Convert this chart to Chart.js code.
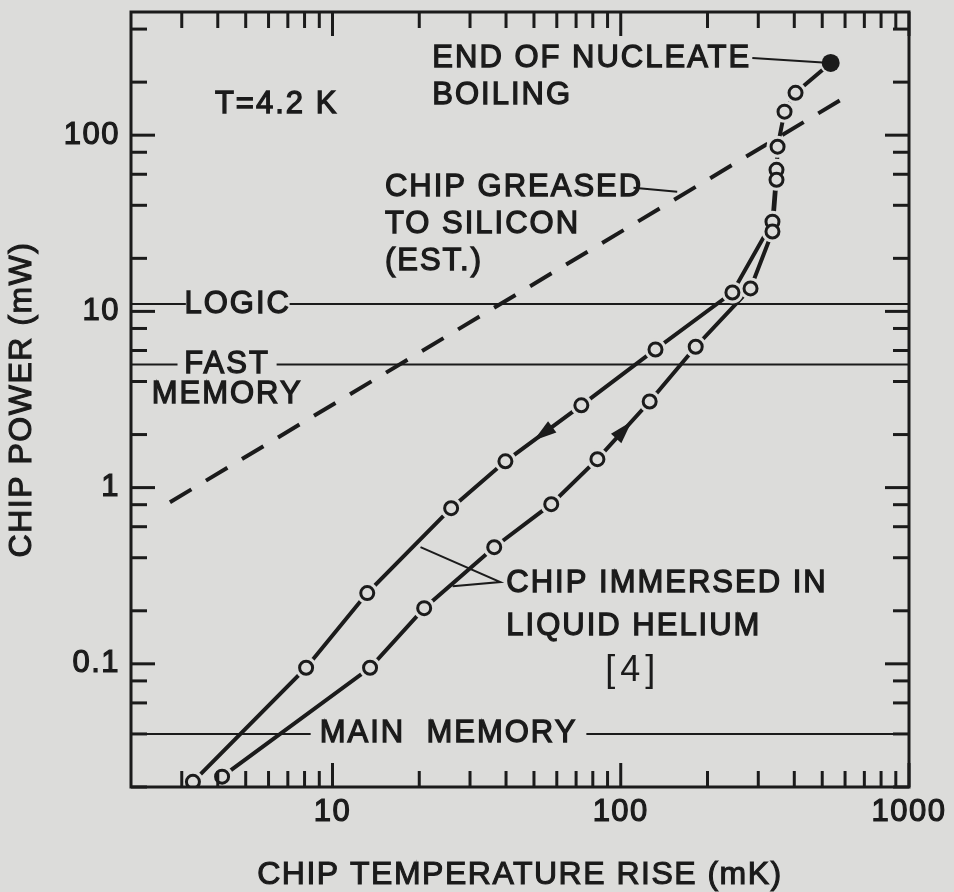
<!DOCTYPE html>
<html>
<head>
<meta charset="utf-8">
<script src="https://cdn.jsdelivr.net/npm/chart.js@4.4.1/dist/chart.umd.min.js"></script>
<style>
  html, body { margin: 0; padding: 0; background: #dcdcda; }
  canvas { display: block; }
</style>
</head>
<body>
<canvas id="chart" width="954" height="892"></canvas>
<script>
const ink = '#1b1b1b';
const paper = '#dcdcda';

// Rango de los ejes (mK y mW)
const tempRange = [2, 1000];
const powerRange = [0.02, 500];

// Marcas de los ejes
const xMajorTicks = [10, 100, 1000];
const xMinorTicks = [3, 4, 5, 6, 7, 8, 9, 20, 30, 40, 50, 60, 70, 80, 90, 200, 300, 400, 500, 600, 700, 800, 900];
const yMajorTicks = [0.1, 1, 10, 100];
const yMinorTicks = [0.02, 0.04, 0.06, 0.08, 0.2, 0.4, 0.6, 0.8, 2, 4, 6, 8, 20, 40, 60, 80, 200, 400];

const xTitle = 'CHIP TEMPERATURE RISE (mK)';
const yTitle = 'CHIP POWER (mW)';

// Chip sumergido en helio liquido: subida (curva inferior)
const upTemp = [4.14, 13.5, 20.8, 36.4, 57.4, 83, 126, 182, 282, 336, 347, 350, 370, 404];
const upPower = [0.0229, 0.095, 0.207, 0.459, 0.805, 1.45, 3.08, 6.3, 13.5, 28.4, 55.8, 86, 136, 174];
// bajada (curva superior)
const downTemp = [347, 336, 244, 132, 73, 39.8, 25.8, 13.2, 8.1, 3.28];
const downPower = [63.6, 32.3, 12.8, 6.08, 2.93, 1.41, 0.764, 0.252, 0.095, 0.0214];
// fin de la ebullicion nucleada
const endTemp = [535];
const endPower = [257];

// Chip engrasado al silicio (estimado)
const greasedTemp = [2.73, 637];
const greasedPower = [0.826, 174];

// Niveles de potencia de referencia
const levelNames = ['LOGIC', 'FAST', 'MAIN  MEMORY'];
const levelPower = [11, 5, 0.04];
const levelGapFrom = [3.1, 2.9, 8.4];
const levelGapTo = [7.1, 6.4, 76];

const toPoints = (xs, ys) => xs.map((x, i) => ({ x: x, y: ys[i] }));

const levelSets = levelPower.map((p, i) => ({
    data: [
        { x: tempRange[0], y: p },
        { x: levelGapFrom[i], y: p },
        { x: (levelGapFrom[i] + levelGapTo[i]) / 2, y: null },
        { x: levelGapTo[i], y: p },
        { x: tempRange[1], y: p }
    ],
    borderColor: ink,
    borderWidth: 2,
    pointRadius: 0,
    spanGaps: false,
    order: 6
}));

const notes = [
    { text: 'T=4.2 K', x: 3.91, y: 150 },
    { text: 'END OF NUCLEATE', x: 22.2, y: 271 },
    { text: 'BOILING', x: 22.2, y: 167 },
    { text: 'CHIP GREASED', x: 15.2, y: 50.3 },
    { text: 'TO SILICON', x: 15.2, y: 31 },
    { text: '(EST.)', x: 15.2, y: 19.2 },
    { text: 'MEMORY', x: 4.31, y: 3.38, align: 'center' },
    { text: 'CHIP IMMERSED IN', x: 40.1, y: 0.287 },
    { text: 'LIQUID HELIUM', x: 40.1, y: 0.164 }
];

const plugin = {
    id: 'anotaciones',
    beforeDraw(chart) {
        chart.ctx.letterSpacing = '1.5px';
    },
    afterDraw(chart) {
        const { ctx, chartArea: area, scales } = chart;
        const px = v => scales.x.getPixelForValue(v);
        const py = v => scales.y.getPixelForValue(v);
        const seg = (x1, y1, x2, y2) => {
            ctx.beginPath();
            ctx.moveTo(x1, y1);
            ctx.lineTo(x2, y2);
            ctx.stroke();
        };

        ctx.save();
        ctx.strokeStyle = ink;
        ctx.fillStyle = ink;

        // marco
        ctx.lineWidth = 3;
        ctx.strokeRect(area.left, area.top, area.width, area.height);

        // marcas hacia adentro
        ctx.lineWidth = 3;
        xMinorTicks.concat(xMajorTicks).forEach(v => {
            const len = xMajorTicks.includes(v) ? 24 : 16;
            const x = px(v);
            seg(x, area.bottom, x, area.bottom - len);
            seg(x, area.top, x, area.top + len);
        });
        yMinorTicks.concat(yMajorTicks).forEach(v => {
            const len = yMajorTicks.includes(v) ? 24 : 16;
            const y = py(v);
            seg(area.left, y, area.left + len, y);
            seg(area.right, y, area.right - len, y);
        });

        // lineas guia
        ctx.lineWidth = 2;
        const path = pts => {
            ctx.beginPath();
            pts.forEach(([a, b], k) => k ? ctx.lineTo(px(a), py(b)) : ctx.moveTo(px(a), py(b)));
            ctx.stroke();
        };
        path([[286, 274], [endTemp[0], endPower[0]]]);
        path([[110.7, 50.3], [157, 47.7]]);
        path([[20.2, 0.459], [38.2, 0.291], [26.1, 0.276]]);

        // flechas de direccion
        const arrow = (xs, ys, i) => {
            const x1 = px(xs[i]), y1 = py(ys[i]), x2 = px(xs[i + 1]), y2 = py(ys[i + 1]);
            ctx.save();
            ctx.translate((x1 + x2) / 2, (y1 + y2) / 2);
            ctx.rotate(Math.atan2(y2 - y1, x2 - x1));
            ctx.beginPath();
            ctx.moveTo(12, 0);
            ctx.lineTo(-11, -7);
            ctx.lineTo(-11, 7);
            ctx.closePath();
            ctx.fill();
            ctx.restore();
        };
        arrow(upTemp, upPower, 5);
        arrow(downTemp, downPower, 4);

        // textos
        ctx.font = '31px "Liberation Sans", Arial, sans-serif';
        ctx.letterSpacing = '2px';
        ctx.textBaseline = 'middle';
        ctx.lineWidth = 1.3;
        const write = (t, x, y, align) => {
            ctx.textAlign = align;
            ctx.fillText(t, x, y);
            ctx.strokeText(t, x, y);
        };
        notes.forEach(n => write(n.text, px(n.x), py(n.y), n.align || 'left'));
        levelNames.forEach((name, i) => {
            write(name, (px(levelGapFrom[i]) + px(levelGapTo[i])) / 2, py(levelPower[i]), 'center');
        });

        // titulos de los ejes
        ctx.font = '32px "Liberation Sans", Arial, sans-serif';
        ctx.letterSpacing = '1.5px';
        ctx.lineWidth = 1.1;
        write(xTitle, (area.left + area.right) / 2, 875, 'center');
        ctx.save();
        ctx.translate(22, (area.top + area.bottom) / 2);
        ctx.rotate(-Math.PI / 2);
        write(yTitle, 0, 0, 'center');
        ctx.restore();

        ctx.font = '36px "Liberation Sans", Arial, sans-serif';
        ctx.letterSpacing = '5px';
        ctx.textAlign = 'center';
        ctx.fillText('[4]', px(110), py(0.0912));
        ctx.restore();
    }
};

Chart.defaults.font.family = '"Liberation Sans", Arial, sans-serif';
Chart.defaults.color = ink;

const ctx = document.getElementById('chart').getContext('2d');
const chart = new Chart(ctx, {
    type: 'line',
    data: {
        datasets: [
            {
                data: toPoints(greasedTemp, greasedPower),
                borderColor: ink,
                borderWidth: 4,
                borderDash: [25, 17],
                pointRadius: 0,
                order: 6
            },
            ...levelSets,
            {
                data: toPoints(upTemp.concat(endTemp), upPower.concat(endPower)),
                borderColor: ink,
                borderWidth: 4,
                pointRadius: 0,
                order: 5
            },
            {
                data: toPoints(downTemp, downPower),
                borderColor: ink,
                borderWidth: 4,
                pointRadius: 0,
                order: 5
            },
            {
                // huecos alrededor de los circulos
                data: toPoints(upTemp.concat(downTemp, endTemp), upPower.concat(downPower, endPower)),
                showLine: false,
                pointRadius: 11,
                pointBorderWidth: 0,
                pointBackgroundColor: paper,
                order: 4
            },
            {
                data: toPoints(upTemp, upPower),
                showLine: false,
                pointRadius: 6.5,
                pointBorderWidth: 3,
                pointBorderColor: ink,
                pointBackgroundColor: paper,
                order: 3
            },
            {
                data: toPoints(downTemp, downPower),
                showLine: false,
                pointRadius: 6.5,
                pointBorderWidth: 3,
                pointBorderColor: ink,
                pointBackgroundColor: paper,
                order: 3
            },
            {
                data: toPoints(endTemp, endPower),
                showLine: false,
                pointRadius: 9,
                pointBorderWidth: 0,
                pointBackgroundColor: ink,
                order: 2
            }
        ]
    },
    options: {
        responsive: false,
        animation: false,
        events: [],
        layout: { padding: { top: 12, right: 45, bottom: 0, left: 0 } },
        plugins: {
            legend: { display: false },
            tooltip: { enabled: false }
        },
        scales: {
            x: {
                type: 'logarithmic',
                min: tempRange[0],
                max: tempRange[1],
                grid: { display: false, drawTicks: false },
                border: { display: false },
                afterBuildTicks: s => { s.ticks = xMajorTicks.map(v => ({ value: v })); },
                afterFit: s => { s.height = 105; s.paddingLeft = 0; s.paddingRight = 0; },
                ticks: {
                    autoSkip: false,
                    maxRotation: 0,
                    padding: 7,
                    font: { size: 31 },
                    textStrokeColor: ink,
                    textStrokeWidth: 1.2,
                    callback: v => String(v)
                }
            },
            y: {
                type: 'logarithmic',
                min: powerRange[0],
                max: powerRange[1],
                grid: { display: false, drawTicks: false },
                border: { display: false },
                afterBuildTicks: s => { s.ticks = yMajorTicks.map(v => ({ value: v })); },
                afterFit: s => { s.width = 131; s.paddingTop = 0; s.paddingBottom = 0; },
                ticks: {
                    autoSkip: false,
                    padding: 11,
                    font: { size: 31 },
                    textStrokeColor: ink,
                    textStrokeWidth: 1.2,
                    callback: v => String(v)
                }
            }
        }
    },
    plugins: [plugin]
});
</script>
</body>
</html>
